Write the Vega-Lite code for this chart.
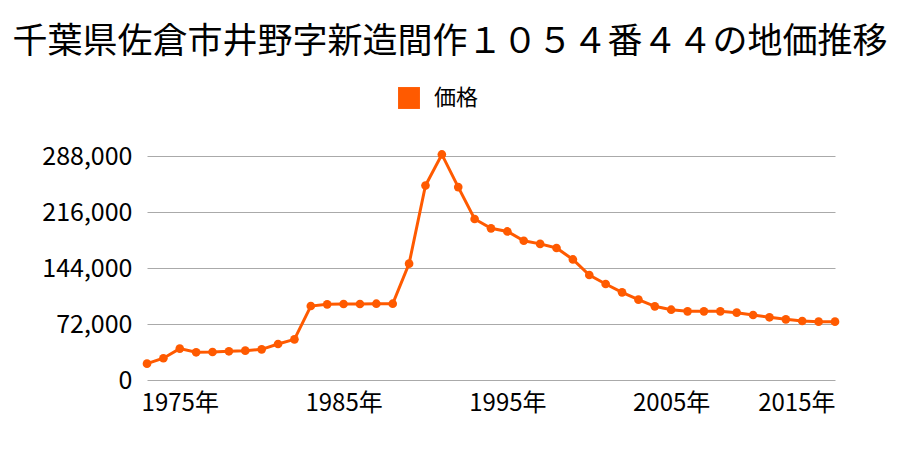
{
  "$schema": "https://vega.github.io/schema/vega-lite/v6.json",
  "width": 688,
  "height": 224,
  "autosize": {"type": "none"},
  "padding": {"left": 147, "top": 156, "right": 65, "bottom": 70},
  "background": "white",
  "title": {
    "text": "千葉県佐倉市井野字新造間作１０５４番４４の地価推移",
    "font": "Noto Sans CJK JP",
    "fontSize": 35,
    "fontWeight": "normal",
    "color": "#000000",
    "anchor": "middle",
    "frame": "group",
    "dx": -41,
    "offset": 27
  },
  "config": {
    "view": {"stroke": null},
    "font": "Noto Sans CJK JP"
  },
  "data": {
    "values": [
      {"year": 1973, "price": 21000, "series": "価格"},
      {"year": 1974, "price": 28000, "series": "価格"},
      {"year": 1975, "price": 40300, "series": "価格"},
      {"year": 1976, "price": 35600, "series": "価格"},
      {"year": 1977, "price": 36000, "series": "価格"},
      {"year": 1978, "price": 36900, "series": "価格"},
      {"year": 1979, "price": 37700, "series": "価格"},
      {"year": 1980, "price": 39400, "series": "価格"},
      {"year": 1981, "price": 46300, "series": "価格"},
      {"year": 1982, "price": 52300, "series": "価格"},
      {"year": 1983, "price": 95100, "series": "価格"},
      {"year": 1984, "price": 97300, "series": "価格"},
      {"year": 1985, "price": 97700, "series": "価格"},
      {"year": 1986, "price": 97700, "series": "価格"},
      {"year": 1987, "price": 98100, "series": "価格"},
      {"year": 1988, "price": 98100, "series": "価格"},
      {"year": 1989, "price": 149600, "series": "価格"},
      {"year": 1990, "price": 250000, "series": "価格"},
      {"year": 1991, "price": 290000, "series": "価格"},
      {"year": 1992, "price": 248000, "series": "価格"},
      {"year": 1993, "price": 207000, "series": "価格"},
      {"year": 1994, "price": 195000, "series": "価格"},
      {"year": 1995, "price": 191000, "series": "価格"},
      {"year": 1996, "price": 179000, "series": "価格"},
      {"year": 1997, "price": 175000, "series": "価格"},
      {"year": 1998, "price": 169700, "series": "価格"},
      {"year": 1999, "price": 155000, "series": "価格"},
      {"year": 2000, "price": 135000, "series": "価格"},
      {"year": 2001, "price": 123400, "series": "価格"},
      {"year": 2002, "price": 112700, "series": "価格"},
      {"year": 2003, "price": 103300, "series": "価格"},
      {"year": 2004, "price": 94700, "series": "価格"},
      {"year": 2005, "price": 90400, "series": "価格"},
      {"year": 2006, "price": 88300, "series": "価格"},
      {"year": 2007, "price": 88300, "series": "価格"},
      {"year": 2008, "price": 88300, "series": "価格"},
      {"year": 2009, "price": 86600, "series": "価格"},
      {"year": 2010, "price": 83600, "series": "価格"},
      {"year": 2011, "price": 80600, "series": "価格"},
      {"year": 2012, "price": 78000, "series": "価格"},
      {"year": 2013, "price": 75900, "series": "価格"},
      {"year": 2014, "price": 75000, "series": "価格"},
      {"year": 2015, "price": 75000, "series": "価格"}
    ]
  },
  "encoding": {
    "x": {
      "field": "year",
      "type": "quantitative",
      "scale": {"domain": [1973, 2015], "nice": false, "zero": false},
      "axis": {
        "title": null,
        "values": [1975, 1985, 1995, 2005, 2015],
        "labelExpr": "datum.value + '年'",
        "grid": false,
        "ticks": false,
        "domain": false,
        "labelFontSize": 24,
        "labelColor": "#000000",
        "labelPadding": 11,
        "labelFont": "Noto Sans CJK JP"
      }
    },
    "y": {
      "field": "price",
      "type": "quantitative",
      "scale": {"domain": [0, 288000], "nice": false},
      "axis": {
        "title": null,
        "values": [0, 72000, 144000, 216000, 288000],
        "format": ",d",
        "grid": true,
        "gridColor": "#aaaaaa",
        "gridWidth": 1,
        "ticks": false,
        "domain": false,
        "labelFontSize": 25,
        "labelColor": "#000000",
        "labelPadding": 15,
        "labelFont": "Noto Sans CJK JP"
      }
    },
    "color": {
      "field": "series",
      "type": "nominal",
      "scale": {"range": ["#ff5a00"]},
      "legend": {
        "title": null,
        "orient": "none",
        "legendX": 251,
        "legendY": -69,
        "symbolType": "square",
        "symbolSize": 480,
        "symbolStrokeWidth": 0,
        "symbolOpacity": 1,
        "labelFontSize": 22,
        "labelColor": "#000000",
        "labelOffset": 14,
        "labelFont": "Noto Sans CJK JP"
      }
    }
  },
  "layer": [
    {"mark": {"type": "line", "strokeWidth": 3}},
    {"mark": {"type": "point", "filled": true, "size": 75, "opacity": 1}}
  ]
}
